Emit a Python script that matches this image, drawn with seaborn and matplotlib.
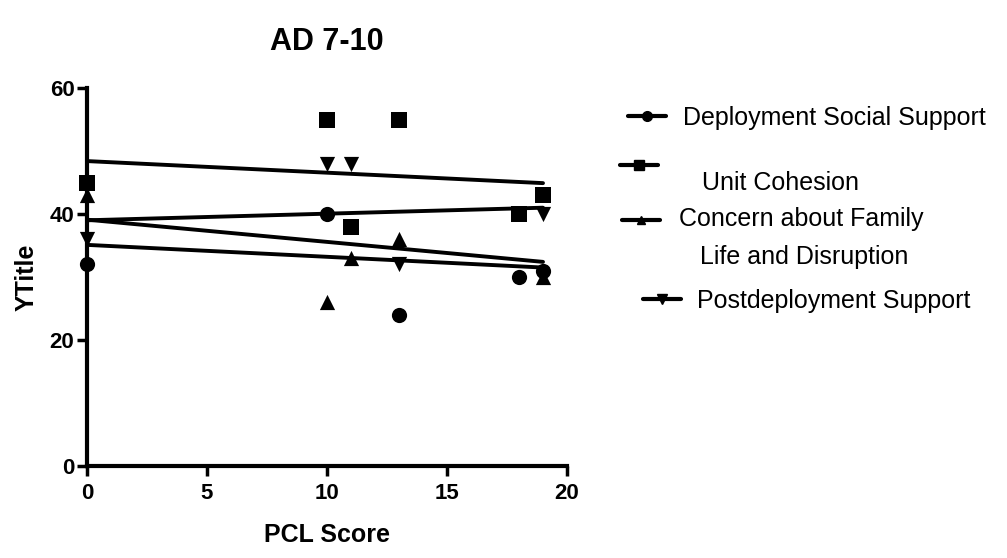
import matplotlib
matplotlib.use("Agg")
import matplotlib.pyplot as plt
from matplotlib.lines import Line2D
from matplotlib.legend_handler import HandlerLine2D
import seaborn as sns

# PCL score (x) and scale score (y) for each measure
pcl_dss = [0, 10, 13, 18, 19]
dss = [32, 40, 24, 30, 31]

pcl_uc = [0, 10, 11, 13, 18, 19]
uc = [45, 55, 38, 55, 40, 43]

pcl_cf = [0, 10, 11, 13, 19]
cf = [43, 26, 33, 36, 30]

pcl_pd = [0, 10, 11, 13, 19]
pd_support = [36, 48, 48, 32, 40]

# Linear-fit values at the ends of the PCL range
fit_x = [0, 19]
fit_dss = [35.1, 31.5]
fit_uc = [48.4, 44.9]
fit_cf = [39.1, 32.4]
fit_pd = [39.0, 41.0]

series_labels = [
    "Deployment Social Support",
    "\nUnit Cohesion",
    "Concern about Family\n   Life and Disruption",
    "Postdeployment Support",
]
x_ticks = [0, 5, 10, 15, 20]
y_ticks = [0, 20, 40, 60]

sns.set_style("ticks")
plt.rcParams["font.family"] = ["Liberation Sans", "DejaVu Sans"]
plt.rcParams.update({"text.color": "black", "axes.labelcolor": "black",
                     "xtick.color": "black", "ytick.color": "black"})

W, H = 1007, 558
fig = plt.figure(figsize=(W / 100, H / 100), dpi=100)
ax = fig.add_axes([87 / W, 1 - 466 / H, 480 / W, 378 / H])

black = "black"
line_kw = dict(color=black, linewidth=2.8, ax=ax, legend=False)
for fx, fy in [(fit_x, fit_uc), (fit_x, fit_dss), (fit_x, fit_cf), (fit_x, fit_pd)]:
    sns.lineplot(x=fx, y=fy, **line_kw)

pt_kw = dict(color=black, edgecolor=black, linewidth=0, ax=ax, legend=False,
             clip_on=False, zorder=5)
sns.scatterplot(x=pcl_dss, y=dss, marker="o", s=120, **pt_kw)
sns.scatterplot(x=pcl_uc, y=uc, marker="s", s=120, **pt_kw)
sns.scatterplot(x=pcl_cf, y=cf, marker="^", s=120, **pt_kw)
sns.scatterplot(x=pcl_pd, y=pd_support, marker="v", s=120, **pt_kw)

ax.set_xlim(0, 20)
ax.set_ylim(0, 60)
ax.set_xticks(x_ticks)
ax.set_yticks(y_ticks)
sns.despine(ax=ax)
for side in ("left", "bottom"):
    ax.spines[side].set_linewidth(3)
    ax.spines[side].set_color(black)
ax.tick_params(axis="both", length=7, width=2.5, color=black,
               labelsize=16, labelcolor=black)
ax.tick_params(axis="x", pad=5)
ax.tick_params(axis="y", pad=2)
for lab in ax.get_xticklabels() + ax.get_yticklabels():
    lab.set_fontweight("bold")

ax.set_xlabel("PCL Score", fontsize=18, fontweight="bold", labelpad=14)
ax.set_ylabel("YTitle", fontsize=18, fontweight="bold", labelpad=8)
ax.set_title("AD 7-10", fontsize=22, fontweight="bold", pad=27)


class ShiftedLineHandler(HandlerLine2D):
    """Line handle drawn a fixed number of points above the label centre."""

    def __init__(self, dy=0.0, **kw):
        super().__init__(**kw)
        self.dy = dy

    def create_artists(self, legend, orig_handle, xdescent, ydescent,
                       width, height, fontsize, trans):
        artists = super().create_artists(legend, orig_handle, xdescent,
                                         ydescent, width, height, fontsize,
                                         trans)
        for a in artists:
            a.set_ydata([y + self.dy for y in a.get_ydata()])
        return artists


# Legend: one entry per measure, placed individually
fs = 18
fs_px = fs * 100 / 72
line_gap = 1.72
entries = [
    # marker, marker size, handle left px, label centre px, text gap px, handle lift px
    ("o", 7, 628, 118, 17, 0),
    ("s", 7, 620, 164, 44, 0),
    ("^", 6, 622, 238, 19, 19),
    ("v", 7, 643, 301, 16, 0),
]
handle_len_px = 38
for (mk, ms, hx, hy, gap, lift), label in zip(entries, series_labels):
    h = Line2D([], [], color=black, linewidth=3, marker=mk, markersize=ms)
    leg = fig.legend([h], [label], loc="center left",
                     bbox_to_anchor=(hx / W, 1 - hy / H),
                     frameon=False, borderpad=0, borderaxespad=0,
                     handlelength=handle_len_px / fs_px,
                     handletextpad=gap / fs_px, fontsize=fs,
                     handler_map={h: ShiftedLineHandler(dy=lift * 72 / 100)})
    for t in leg.get_texts():
        t.set_linespacing(line_gap)
        t.set_color(black)

fig.savefig("out.png", dpi=100, facecolor="white")
